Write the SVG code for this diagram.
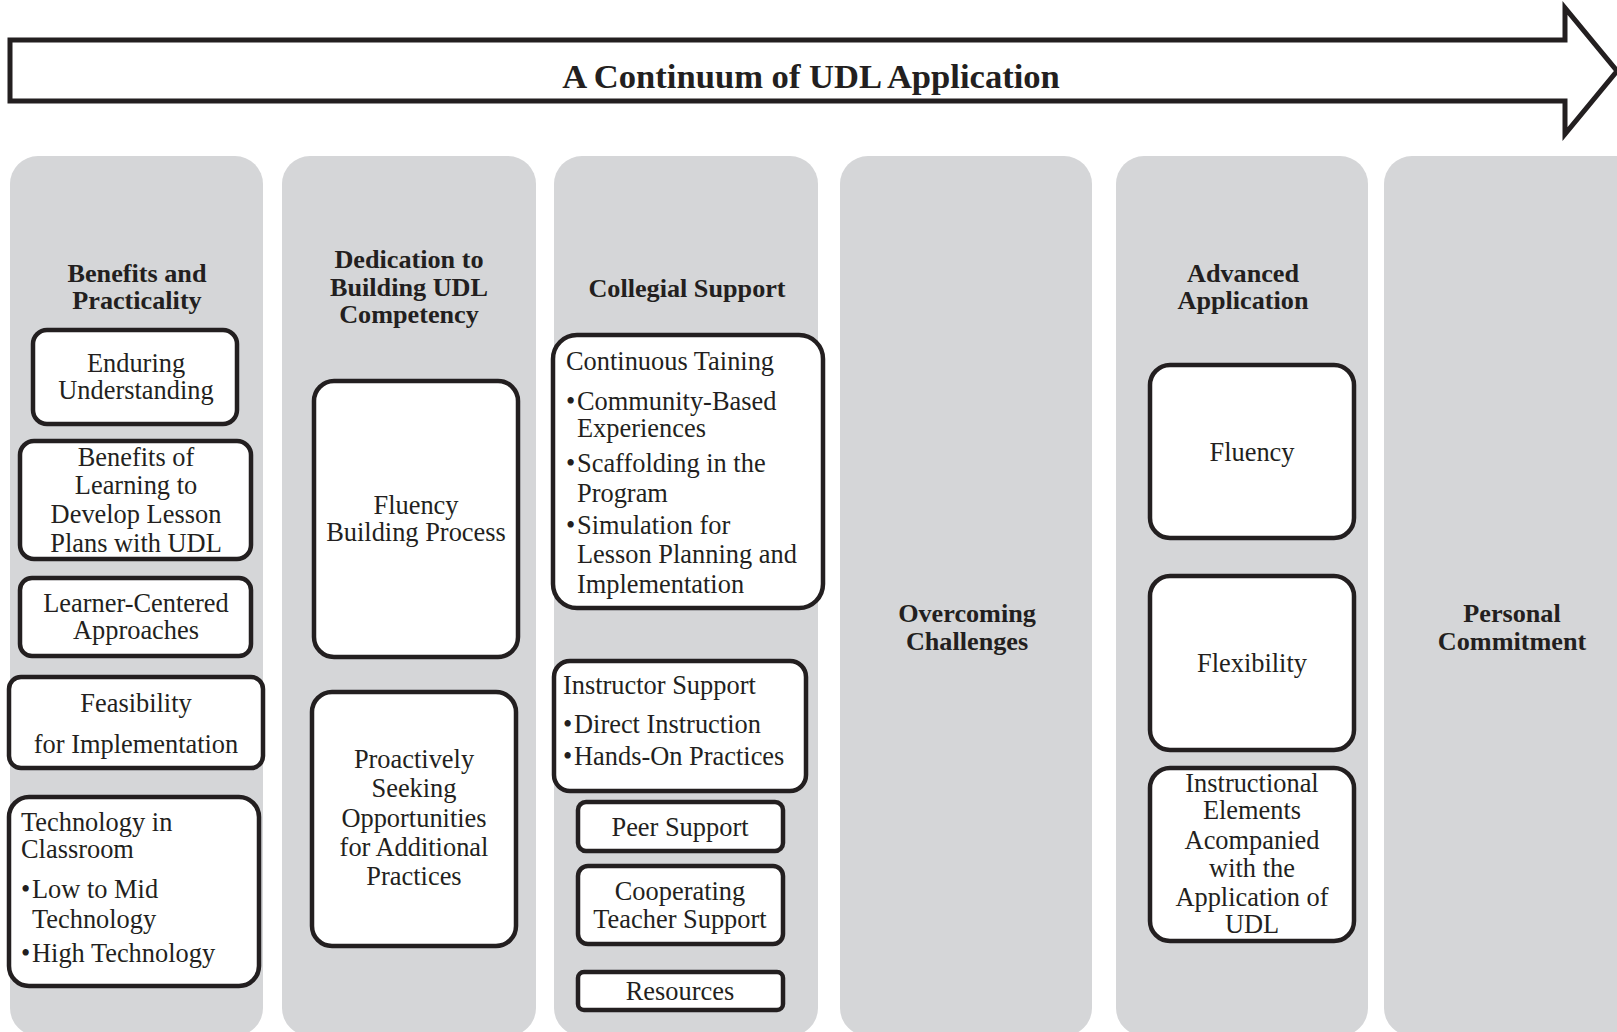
<svg xmlns="http://www.w3.org/2000/svg" width="1617" height="1032" viewBox="0 0 1617 1032">
<style>
.col{fill:#d5d6d8;}
.box{fill:#fff;stroke:#231f20;stroke-width:4.5;}
.t{font-family:"Liberation Serif","Times New Roman",serif;font-size:26.4px;fill:#231f20;}
.c{text-anchor:middle;}
.h{font-family:"Liberation Serif","Times New Roman",serif;font-size:26.2px;font-weight:bold;fill:#231f20;text-anchor:middle;}
.arrow{fill:#fff;stroke:#231f20;stroke-width:5;stroke-linejoin:miter;}
</style>
<rect width="1617" height="1032" fill="#fff"/>
<g id="arrow">
<path class="arrow" d="M10,40 H1565 V8 L1617,71 L1565,134 V101 H10 Z"/>
<text x="811" y="88" class="h" style="font-size:34.6px">A Continuum of UDL Application</text>
</g>
<g id="col1">
<rect class="col" x="10" y="156" width="253" height="880" rx="28"/>
<text class="h"><tspan x="137" y="282">Benefits and</tspan><tspan x="137" y="309">Practicality</tspan></text>
</g>
<g id="col2">
<rect class="col" x="282" y="156" width="254" height="880" rx="28"/>
<text class="h"><tspan x="409" y="268">Dedication to</tspan><tspan x="409" y="296">Building UDL</tspan><tspan x="409" y="323">Competency</tspan></text>
</g>
<g id="col3">
<rect class="col" x="554" y="156" width="264" height="880" rx="28"/>
<text class="h" x="687" y="297">Collegial Support</text>
</g>
<g id="col4">
<rect class="col" x="840" y="156" width="252" height="880" rx="28"/>
<text class="h"><tspan x="967" y="622">Overcoming</tspan><tspan x="967" y="650">Challenges</tspan></text>
</g>
<g id="col5">
<rect class="col" x="1116" y="156" width="252" height="880" rx="28"/>
<text class="h"><tspan x="1243" y="282">Advanced</tspan><tspan x="1243" y="309">Application</tspan></text>
</g>
<g id="col6">
<rect class="col" x="1384" y="156" width="260" height="880" rx="28"/>
<text class="h"><tspan x="1512" y="622">Personal</tspan><tspan x="1512" y="650">Commitment</tspan></text>
</g>
<g id="enduring">
<rect class="box" x="33" y="330" width="204" height="94" rx="14"/>
<text class="t c"><tspan x="136" y="372">Enduring</tspan><tspan x="136" y="399">Understanding</tspan></text>
</g>
<g id="benefits">
<rect class="box" x="20" y="441" width="231" height="118" rx="14"/>
<text class="t c"><tspan x="136" y="466">Benefits of</tspan><tspan x="136" y="494">Learning to</tspan><tspan x="136" y="523">Develop Lesson</tspan><tspan x="136" y="552">Plans with UDL</tspan></text>
</g>
<g id="learner">
<rect class="box" x="20" y="578" width="231" height="78" rx="12"/>
<text class="t c"><tspan x="136" y="612">Learner-Centered</tspan><tspan x="136" y="639">Approaches</tspan></text>
</g>
<g id="feasibility">
<rect class="box" x="9" y="677" width="254" height="91" rx="12"/>
<text class="t c"><tspan x="136" y="712">Feasibility</tspan><tspan x="136" y="753">for Implementation</tspan></text>
</g>
<g id="technology">
<rect class="box" x="9" y="797" width="250" height="189" rx="20"/>
<text class="t"><tspan x="21" y="831">Technology in</tspan><tspan x="21" y="858">Classroom</tspan><tspan x="21" y="898">•</tspan><tspan x="32" y="898">Low to Mid</tspan><tspan x="32" y="928">Technology</tspan><tspan x="21" y="962">•</tspan><tspan x="32" y="962">High Technology</tspan></text>
</g>
<g id="fluency-building">
<rect class="box" x="314" y="381" width="204" height="276" rx="20"/>
<text class="t c"><tspan x="416" y="514">Fluency</tspan><tspan x="416" y="541">Building Process</tspan></text>
</g>
<g id="proactively">
<rect class="box" x="312" y="692" width="204" height="254" rx="20"/>
<text class="t c"><tspan x="414" y="768">Proactively</tspan><tspan x="414" y="797">Seeking</tspan><tspan x="414" y="827">Opportunities</tspan><tspan x="414" y="856">for Additional</tspan><tspan x="414" y="885">Practices</tspan></text>
</g>
<g id="continuous">
<rect class="box" x="553" y="335" width="270" height="273" rx="24"/>
<text class="t"><tspan x="566" y="370">Continuous Taining</tspan><tspan x="566" y="410">•</tspan><tspan x="577" y="410">Community-Based</tspan><tspan x="577" y="437">Experiences</tspan><tspan x="566" y="472">•</tspan><tspan x="577" y="472">Scaffolding in the</tspan><tspan x="577" y="502">Program</tspan><tspan x="566" y="534">•</tspan><tspan x="577" y="534">Simulation for</tspan><tspan x="577" y="563">Lesson Planning and</tspan><tspan x="577" y="593">Implementation</tspan></text>
</g>
<g id="instructor">
<rect class="box" x="554" y="661" width="252" height="130" rx="16"/>
<text class="t"><tspan x="563" y="694">Instructor Support</tspan><tspan x="563" y="733">•</tspan><tspan x="574" y="733">Direct Instruction</tspan><tspan x="563" y="765">•</tspan><tspan x="574" y="765">Hands-On Practices</tspan></text>
</g>
<g id="peer">
<rect class="box" x="578" y="802" width="205" height="49" rx="8"/>
<text class="t c" x="680" y="836">Peer Support</text>
</g>
<g id="cooperating">
<rect class="box" x="578" y="866" width="205" height="78" rx="10"/>
<text class="t c"><tspan x="680" y="900">Cooperating</tspan><tspan x="680" y="928">Teacher Support</tspan></text>
</g>
<g id="resources">
<rect class="box" x="578" y="972" width="205" height="38" rx="6"/>
<text class="t c" x="680" y="1000">Resources</text>
</g>
<g id="fluency">
<rect class="box" x="1150" y="365" width="204" height="173" rx="20"/>
<text class="t c" x="1252" y="461">Fluency</text>
</g>
<g id="flexibility">
<rect class="box" x="1150" y="576" width="204" height="174" rx="20"/>
<text class="t c" x="1252" y="672">Flexibility</text>
</g>
<g id="instructional">
<rect class="box" x="1150" y="768" width="204" height="173" rx="20"/>
<text class="t c"><tspan x="1252" y="792">Instructional</tspan><tspan x="1252" y="819">Elements</tspan><tspan x="1252" y="849">Acompanied</tspan><tspan x="1252" y="877">with the</tspan><tspan x="1252" y="906">Application of</tspan><tspan x="1252" y="933">UDL</tspan></text>
</g>
<g id="connectors"></g>
</svg>
